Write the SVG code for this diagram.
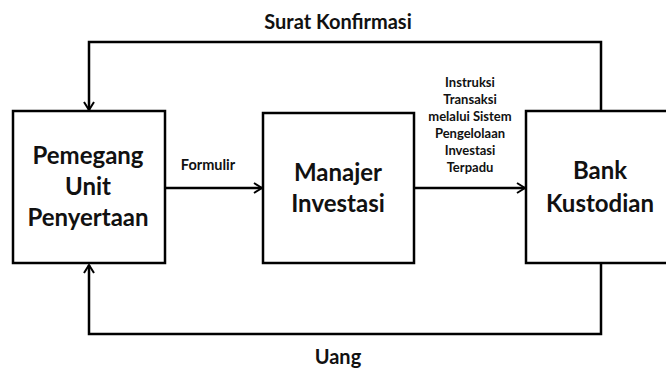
<svg xmlns="http://www.w3.org/2000/svg" width="666" height="368" viewBox="0 0 666 368">
<defs>
<marker id="arr" viewBox="0 0 12 12" refX="11" refY="6" markerWidth="12" markerHeight="12" markerUnits="userSpaceOnUse" orient="auto">
<path d="M3,1 L11,6 L3,11" fill="none" stroke="#000" stroke-width="2"/>
</marker>
<style>
.box{fill:#fff;stroke:#000;stroke-width:2.5}
.ln{fill:none;stroke:#000;stroke-width:2.5}
text{font-family:Lato,"Liberation Sans",sans-serif;font-weight:bold;fill:#111;text-anchor:middle}
.big{font-size:24px}
.lbl{font-size:20px}
.sm{font-size:14.5px}
.xs{font-size:13px}
</style>
</defs>
<rect width="666" height="368" fill="#fff"/>
<g id="connectors">
<path class="ln" d="M601,111 V42 H89 V110" marker-end="url(#arr)"/>
<path class="ln" d="M601,263 V334 H89 V265" marker-end="url(#arr)"/>
<path class="ln" d="M165,188 H262" marker-end="url(#arr)"/>
<path class="ln" d="M414,188 H525" marker-end="url(#arr)"/>
<text class="lbl" x="338" y="29">Surat Konfirmasi</text>
<text class="lbl" x="338" y="364">Uang</text>
<text class="sm" x="208" y="170">Formulir</text>
<text class="xs" x="470" y="87">Instruksi</text>
<text class="xs" x="470" y="104">Transaksi</text>
<text class="xs" x="470" y="121">melalui Sistem</text>
<text class="xs" x="470" y="138">Pengelolaan</text>
<text class="xs" x="470" y="155">Investasi</text>
<text class="xs" x="470" y="172">Terpadu</text>
</g>
<g id="pemegang">
<rect class="box" x="13" y="111" width="152" height="152"/>
<text class="big" x="88" y="164">Pemegang</text>
<text class="big" x="88" y="195">Unit</text>
<text class="big" x="88" y="226">Penyertaan</text>
</g>
<g id="manajer">
<rect class="box" x="263" y="113" width="151" height="150"/>
<text class="big" x="338" y="181">Manajer</text>
<text class="big" x="338" y="212">Investasi</text>
</g>
<g id="bank">
<rect class="box" x="526" y="111" width="150" height="152"/>
<text class="big" x="600" y="179">Bank</text>
<text class="big" x="600" y="212">Kustodian</text>
</g>
</svg>
